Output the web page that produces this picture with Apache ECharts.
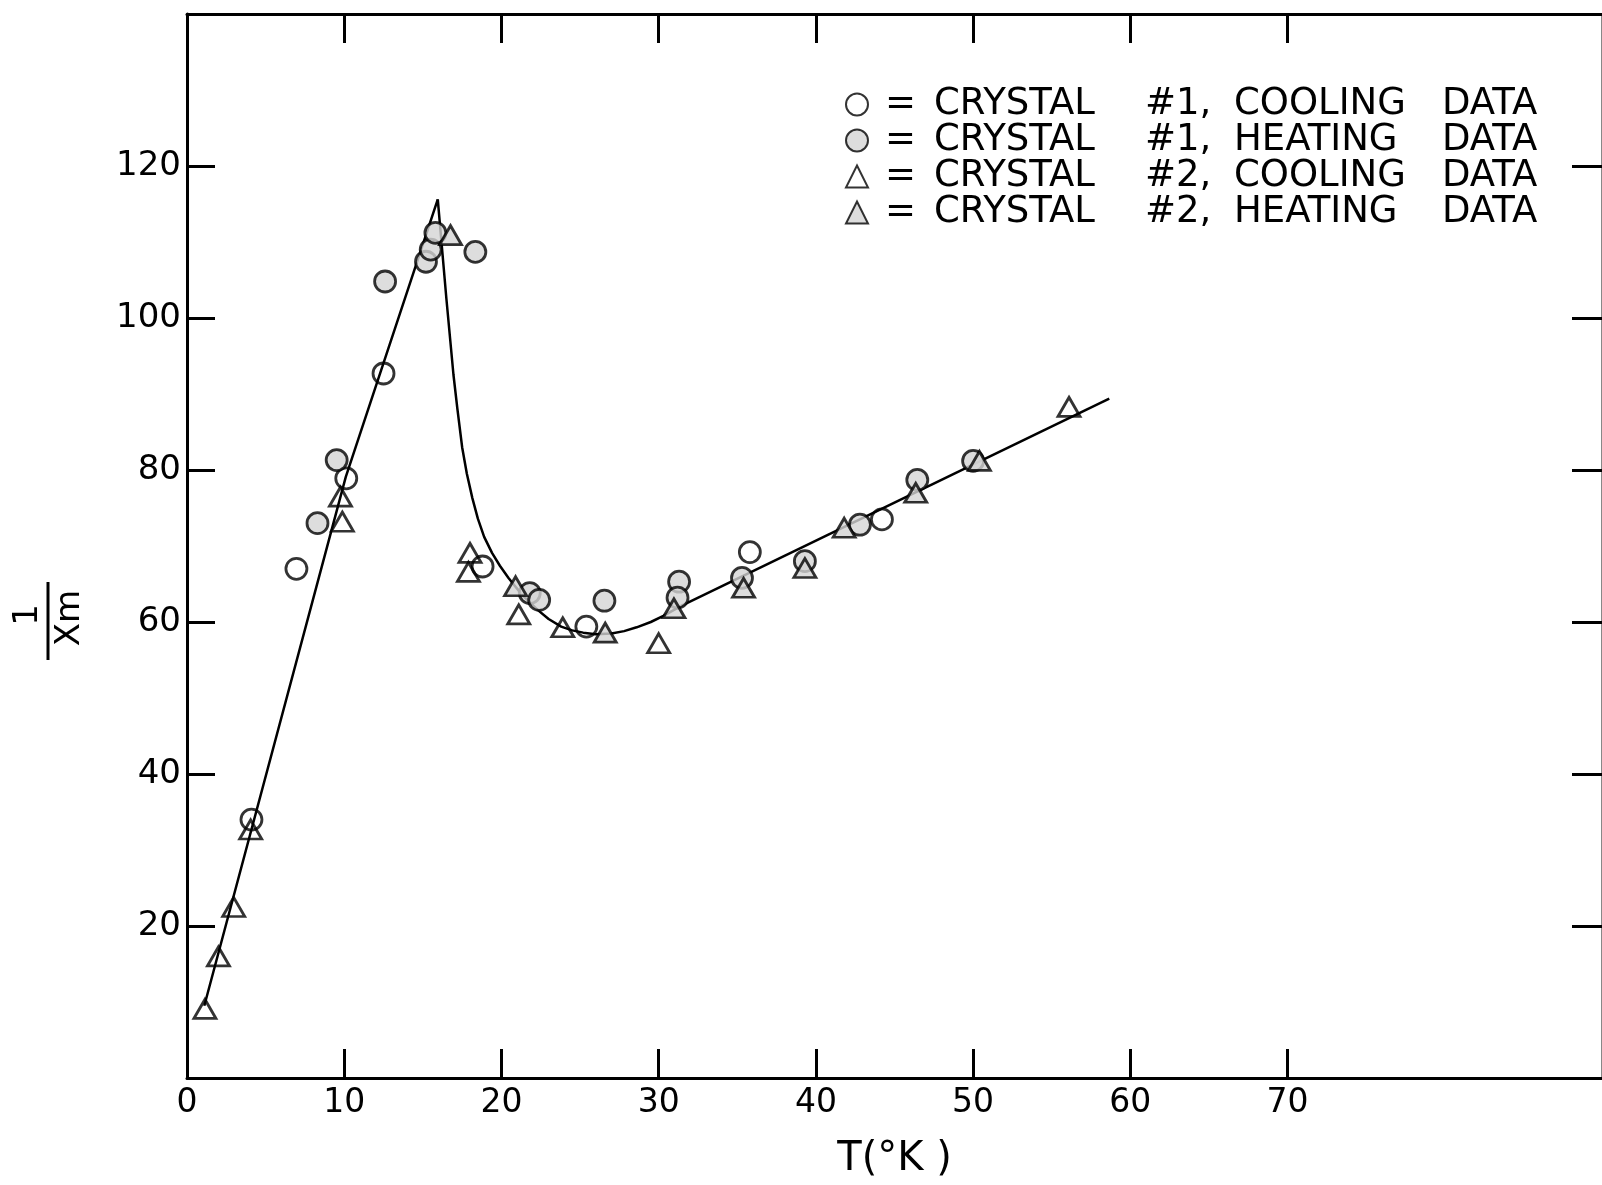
<!DOCTYPE html>
<html>
<head>
<meta charset="utf-8">
<script src="https://cdn.jsdelivr.net/npm/echarts@6.0.0/dist/echarts.min.js"></script>
<style>
html, body { margin: 0; padding: 0; background: #fff; }
#chart { width: 1602px; height: 1185px; }
</style>
</head>
<body>
<div id="chart"></div>
<script>
// tick positions
var xTicks = [10, 20, 30, 40, 50, 60, 70];
var xLabels = [0, 10, 20, 30, 40, 50, 60, 70];
var yTicks = [20, 40, 60, 80, 100, 120];

// [T (K), 1/chi_m]
var cool1 = [[4.1, 34.0], [6.96, 67.0], [10.13, 78.9], [12.5, 92.7], [18.8, 67.3], [25.4, 59.4], [35.8, 69.2], [44.2, 73.5]];
var heat1 = [[8.3, 73.0], [9.52, 81.3], [12.6, 104.8], [15.2, 107.4], [15.5, 109.0], [15.8, 111.2], [18.34, 108.7],
  [21.8, 63.8], [22.4, 62.9], [26.55, 62.8], [31.3, 65.3], [31.2, 63.2], [35.3, 65.8], [39.3, 68.0],
  [42.8, 72.8], [46.45, 78.7], [50.0, 81.2]];
var cool2 = [[1.14, 9.1], [2.0, 16.0], [2.97, 22.5], [4.05, 32.7], [9.76, 76.5], [9.88, 73.2], [18.0, 69.1],
  [17.9, 66.6], [21.1, 61.0], [23.9, 59.3], [30.0, 57.2], [56.1, 88.3]];
var heat2 = [[16.76, 110.9], [20.9, 64.7], [26.6, 58.6], [30.97, 61.8], [35.4, 64.5], [39.3, 67.1],
  [41.8, 72.4], [46.35, 77.0], [50.4, 81.2]];

// hand drawn curve: straight rise, bend down through the minimum, straight tail
var rise = [[1.1, 9.5], [10.1, 79.1], [15.95, 115.6]];
var fall = [[15.95, 115.6], [16.5, 102.5], [16.95, 92.5], [17.2, 88.0], [17.5, 83.0], [17.8, 79.5],
  [18.15, 76.3], [18.5, 73.6], [18.9, 71.2], [19.4, 69.1], [19.9, 67.4], [20.45, 65.8], [21.3, 63.6],
  [22.3, 61.6], [23.0, 60.4], [23.8, 59.4], [24.5, 58.9], [25.2, 58.6], [26.0, 58.4], [27.0, 58.5],
  [27.8, 58.8], [28.6, 59.3], [29.5, 60.0], [30.3, 60.8], [31.4, 62.1]];
var tail = [[31.4, 62.1], [58.66, 89.4]];

var names = [
  "CRYSTAL #1, COOLING DATA",
  "CRYSTAL #1, HEATING DATA",
  "CRYSTAL #2, COOLING DATA",
  "CRYSTAL #2, HEATING DATA"
];

var font = "DejaVu Sans";
var stipple = "#d4d4d4";

var chart = echarts.init(document.getElementById("chart"));

function markStyle(fill) {
  return { color: fill, borderColor: "#000", borderWidth: 2.8 };
}

function part(w, pad) {
  var s = { fontFamily: font, fontSize: 37, color: "#000", align: "left" };
  if (w) s.width = w;
  if (pad) s.padding = [0, 0, 0, pad];
  return s;
}

function curveSeries(name, data) {
  return {
    name: name,
    type: "line",
    data: data,
    symbol: "none",
    z: 1,
    lineStyle: { color: "#000", width: 2.5 }
  };
}

var axisStyle = { color: "#000", width: 3 };

chart.setOption({
  animation: false,
  backgroundColor: "#fff",
  grid: { left: 187, top: 14, width: 1415, height: 1065 },
  legend: {
    orient: "vertical",
    left: 845,
    top: 86,
    padding: 0,
    itemWidth: 22,
    itemHeight: 22,
    itemGap: -1,
    data: names,
    align: "left",
    textStyle: {
      fontFamily: font,
      fontSize: 37,
      color: "#000",
      rich: {
        eq: part(49, 12),
        a: part(211),
        b: part(89),
        c: part(208),
        d: part(0)
      }
    },
    formatter: function (name) {
      var p = name.split(" ");
      return "{eq|=}{a|" + p[0] + "}{b|" + p[1] + "}{c|" + p[2] + "}{d|" + p[3] + "}";
    }
  },
  xAxis: [
    {
      type: "value",
      min: 0,
      max: 90,
      interval: 10,
      name: "T(°K )",
      nameLocation: "middle",
      nameGap: 62,
      nameTextStyle: { fontFamily: font, fontSize: 40, color: "#000" },
      axisLine: { onZero: false, lineStyle: axisStyle },
      axisTick: { inside: true, length: 29, customValues: xTicks, lineStyle: axisStyle },
      axisLabel: { customValues: xLabels, margin: 9, fontFamily: font, fontSize: 33, color: "#000" },
      splitLine: { show: false }
    },
    {
      type: "value",
      position: "top",
      min: 0,
      max: 90,
      interval: 10,
      axisLine: { onZero: false, lineStyle: axisStyle },
      axisTick: { inside: true, length: 29, customValues: xTicks, lineStyle: axisStyle },
      axisLabel: { show: false },
      splitLine: { show: false }
    }
  ],
  yAxis: [
    {
      type: "value",
      min: 0,
      max: 140,
      interval: 20,
      axisLine: { show: true, onZero: false, lineStyle: axisStyle },
      axisTick: { show: true, inside: true, length: 28, customValues: yTicks, lineStyle: axisStyle },
      axisLabel: { customValues: yTicks, margin: 6, fontFamily: font, fontSize: 34, color: "#000" },
      splitLine: { show: false }
    },
    {
      type: "value",
      position: "right",
      min: 0,
      max: 140,
      interval: 20,
      axisLine: { show: true, onZero: false, lineStyle: { color: "#888", width: 2 } },
      axisTick: { show: true, inside: true, length: 30, customValues: yTicks, lineStyle: axisStyle },
      axisLabel: { show: false },
      splitLine: { show: false }
    }
  ],
  graphic: [
    {
      type: "text",
      x: 28,
      y: 615,
      rotation: Math.PI / 2,
      style: { text: "1", fontFamily: font, fontSize: 34, fill: "#000", align: "center", verticalAlign: "middle" }
    },
    {
      type: "line",
      shape: { x1: 48, y1: 582, x2: 48, y2: 660 },
      style: { stroke: "#000", lineWidth: 3 }
    },
    {
      type: "text",
      x: 70,
      y: 618,
      rotation: Math.PI / 2,
      style: { text: "Χm", fontFamily: font, fontSize: 34, fill: "#000", align: "center", verticalAlign: "middle" }
    }
  ],
  series: [
    curveSeries("rise", rise),
    curveSeries("fall", fall),
    curveSeries("tail", tail),
    {
      name: names[0],
      type: "scatter",
      data: cool1,
      symbol: "circle",
      symbolSize: 21,
      z: 3,
      itemStyle: markStyle("rgba(255,255,255,0)")
    },
    {
      name: names[1],
      type: "scatter",
      data: heat1,
      symbol: "circle",
      symbolSize: 21,
      z: 3,
      itemStyle: markStyle(stipple)
    },
    {
      name: names[2],
      type: "scatter",
      data: cool2,
      symbol: "triangle",
      symbolSize: [22, 19],
      z: 3,
      itemStyle: markStyle("rgba(255,255,255,0)")
    },
    {
      name: names[3],
      type: "scatter",
      data: heat2,
      symbol: "triangle",
      symbolSize: [22, 19],
      z: 3,
      itemStyle: markStyle(stipple)
    }
  ]
});
</script>
</body>
</html>
